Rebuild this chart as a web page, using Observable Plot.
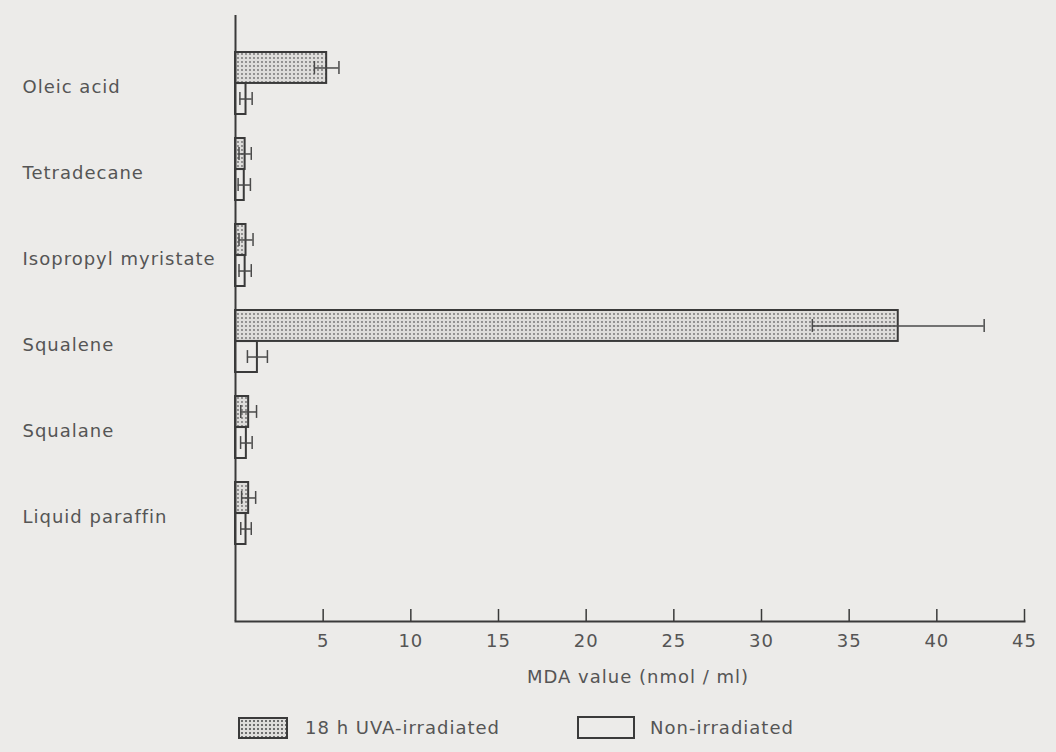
<!DOCTYPE html>
<html>
<head>
<meta charset="utf-8">
<script src="https://cdn.jsdelivr.net/npm/d3@7"></script>
<script src="https://cdn.jsdelivr.net/npm/@observablehq/plot@0.6"></script>
<style>
  html, body { margin: 0; padding: 0; background: #ecebe9; }
  #wrap { width: 1056px; height: 752px; position: relative; overflow: hidden; }
  #legend { position: relative; height: 52px; font-family: "DejaVu Sans", sans-serif; font-size: 18px; letter-spacing: 1px; color: #555; }
  .sw { position: absolute; box-sizing: border-box; border: 2px solid #3a3a3a; }
  .sw.dots { background-color: #dedddb; background-image: radial-gradient(#6e6e6e 0.9px, transparent 1.3px); background-size: 4px 4px; }
  .lt { position: absolute; line-height: 22px; white-space: nowrap; }
</style>
</head>
<body>
<div id="wrap">
  <div id="chart"></div>
  <div id="legend">
    <div class="sw dots" style="left:238px; top:17px; width:50px; height:22px;"></div>
    <div class="lt" id="l1" style="left:305px; top:17px;"></div>
    <div class="sw" style="left:577px; top:16px; width:58px; height:23px;"></div>
    <div class="lt" id="l2" style="left:650px; top:17px;"></div>
  </div>
</div>
<script>
// ---- data ----
const categories = ["Oleic acid", "Tetradecane", "Isopropyl myristate", "Squalene", "Squalane", "Liquid paraffin"];
const uvaMean = [5.2, 0.55, 0.6, 37.8, 0.75, 0.75];
const uvaErr  = [0.7, 0.35, 0.4, 4.9, 0.45, 0.4];
const nonMean = [0.6, 0.5, 0.55, 1.25, 0.62, 0.6];
const nonErr  = [0.35, 0.35, 0.35, 0.57, 0.33, 0.3];
const xTicks = [5, 10, 15, 20, 25, 30, 35, 40, 45];
const seriesNames = ["18 h UVA-irradiated", "Non-irradiated"];
const xLabel = "MDA value (nmol / ml)";

const rows = categories.map((c, i) => ({
  cat: c, uva: uvaMean[i], uvaErr: uvaErr[i], non: nonMean[i], nonErr: nonErr[i]
}));

const W = 1056, H = 700;
const mL = 235, mR = 32, mT = 15, mB = 79;
const pInner = 0.279, pOuter = 0.657, alignY = 0.327;
const step = (H - mT - mB) / (categories.length - pInner + 2 * pOuter);
const bw = step * (1 - pInner);
const half = bw / 2, quarter = bw / 4, cap = 6.5;
const ink = "#3a3a3a";

const plot = Plot.plot({
  width: W, height: H,
  marginLeft: mL, marginRight: mR, marginTop: mT, marginBottom: mB,
  style: { fontFamily: "DejaVu Sans, sans-serif", fontSize: "18px", letterSpacing: "1px", color: "#555", background: "transparent", overflow: "visible" },
  x: { domain: [0, 45], axis: null },
  y: { domain: categories, paddingInner: pInner, paddingOuter: pOuter, align: alignY, axis: null },
  marks: [
    Plot.barX(rows, { x: "uva", y: "cat", insetBottom: half, fill: "url(#dots)", stroke: ink, strokeWidth: 2 }),
    Plot.barX(rows, { x: "non", y: "cat", insetTop: half, fill: "none", stroke: ink, strokeWidth: 2 }),
    // error bars UVA
    Plot.ruleY(rows, { y: "cat", x1: d => d.uva - d.uvaErr, x2: d => d.uva + d.uvaErr, dy: -quarter, stroke: "#4a4a4a", strokeWidth: 1.5 }),
    Plot.tickX(rows, { x: d => d.uva - d.uvaErr, y: "cat", insetTop: quarter - cap, insetBottom: bw - quarter - cap, stroke: "#4a4a4a", strokeWidth: 1.5 }),
    Plot.tickX(rows, { x: d => d.uva + d.uvaErr, y: "cat", insetTop: quarter - cap, insetBottom: bw - quarter - cap, stroke: "#4a4a4a", strokeWidth: 1.5 }),
    // error bars non-irradiated
    Plot.ruleY(rows, { y: "cat", x1: d => d.non - d.nonErr, x2: d => d.non + d.nonErr, dy: quarter, stroke: "#4a4a4a", strokeWidth: 1.5 }),
    Plot.tickX(rows, { x: d => d.non - d.nonErr, y: "cat", insetTop: bw - quarter - cap, insetBottom: quarter - cap, stroke: "#4a4a4a", strokeWidth: 1.5 }),
    Plot.tickX(rows, { x: d => d.non + d.nonErr, y: "cat", insetTop: bw - quarter - cap, insetBottom: quarter - cap, stroke: "#4a4a4a", strokeWidth: 1.5 }),
    // axes lines
    Plot.ruleX([0], { stroke: ink, strokeWidth: 2 }),
    Plot.frame({ anchor: "bottom", stroke: ink, strokeWidth: 2 }),
    Plot.ruleX(xTicks, { x: d => d, insetTop: (H - mT - mB) - 12, stroke: ink, strokeWidth: 1.5 }),
    Plot.axisX({ ticks: xTicks, tickSize: 0, tickPadding: 13, label: null, fill: "#555" }),
    // category labels
    Plot.text(rows, { y: "cat", text: "cat", frameAnchor: "left", textAnchor: "start", dx: 22 - mL, dy: 3.5, fill: "#555" }),
    // x axis title
    Plot.text([xLabel], { text: d => d, frameAnchor: "bottom", dy: 56, dx: 8, lineAnchor: "middle", fill: "#555" })
  ]
});

d3.select(plot).insert("defs", ":first-child").html(
  '<pattern id="dots" width="4" height="4" patternUnits="userSpaceOnUse">' +
  '<rect width="4" height="4" fill="#dedddb"></rect>' +
  '<circle cx="2" cy="2" r="0.9" fill="#6e6e6e"></circle></pattern>'
);

document.getElementById("chart").appendChild(plot);
document.getElementById("l1").textContent = seriesNames[0];
document.getElementById("l2").textContent = seriesNames[1];
</script>
</body>
</html>
